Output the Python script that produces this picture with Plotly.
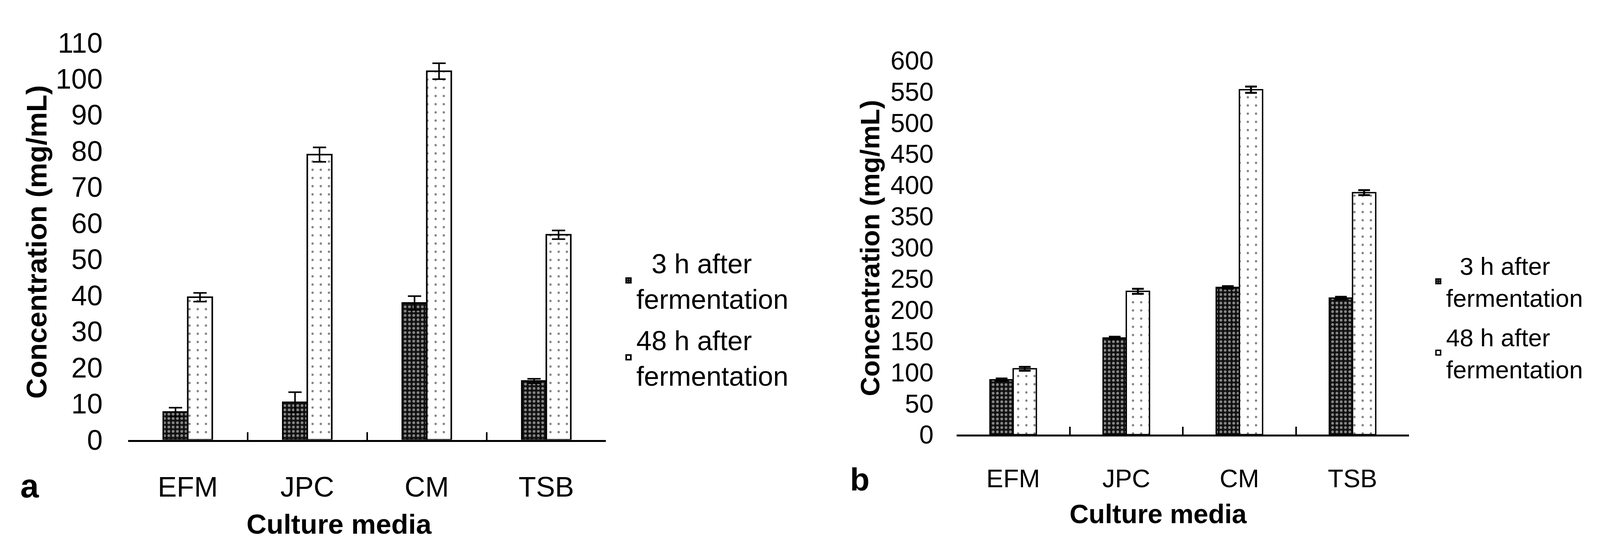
import plotly.graph_objects as go

# reference picture size, and the part of the page that the screenshot shows
REF_W, H = 4306, 1419
W = 4085
FONT = "Liberation Sans, Arial, sans-serif"

media = ["EFM", "JPC", "CM", "TSB"]

# panel a
a_3h = [7.7, 10.4, 37.9, 16.3]
a_3h_err = [1.2, 2.8, 1.9, 0.6]
a_48h = [39.5, 79.0, 102.1, 56.8]
a_48h_err = [1.2, 2.0, 2.2, 1.2]
a_ticks = list(range(0, 111, 10))

# panel b
b_3h = [88, 155, 236, 219]
b_3h_err = [2, 2, 2, 2]
b_48h = [105.6, 229.8, 553, 388]
b_48h_err = [3, 4, 5, 4]
b_ticks = list(range(0, 601, 50))

names = ["&nbsp;&nbsp;3 h after<br>fermentation", "48 h after<br>fermentation"]


def px(x):
    # reference pixel -> paper fraction
    return x / REF_W


def py(y):
    return (H - y) / H


pat_3h = dict(shape=".", bgcolor="#111111", fgcolor="white", size=11, solidity=0.32)
pat_48h = dict(shape=".", bgcolor="white", fgcolor="black", size=21, solidity=0.06)

fig = go.Figure()

for i, (vals, errs, name, pat) in enumerate([(a_3h, a_3h_err, names[0], pat_3h), (a_48h, a_48h_err, names[1], pat_48h)]):
    fig.add_trace(go.Bar(
        x=media, y=vals, name=name, xaxis="x", yaxis="y", legend="legend", legendgroup=f"a{i}",
        marker=dict(color="white", pattern=pat, line=dict(color="black", width=4)),
        error_y=dict(type="data", array=errs, color="black", thickness=4, width=17),
    ))

for i, (vals, errs, name, pat) in enumerate([(b_3h, b_3h_err, names[0], pat_3h), (b_48h, b_48h_err, names[1], pat_48h)]):
    fig.add_trace(go.Bar(
        x=media, y=vals, name=name, xaxis="x2", yaxis="y2", legend="legend2", legendgroup=f"b{i}",
        marker=dict(color="white", pattern=pat, line=dict(color="black", width=3.5)),
        error_y=dict(type="data", array=errs, color="black", thickness=5, width=15),
    ))

xcommon = dict(type="category", showline=True, linecolor="black", linewidth=5,
               ticks="inside", tickson="boundaries", ticklen=20, tickwidth=4, tickcolor="black",
               showgrid=False, zeroline=False, range=[-0.5, 3.5])
ycommon = dict(showline=False, ticks="", showgrid=False, zeroline=False, tickmode="array")

fig.update_layout(
    width=W, height=H,
    margin=dict(l=0, r=0, t=0, b=0),
    paper_bgcolor="white", plot_bgcolor="white",
    font=dict(family=FONT, color="black"),
    barmode="group", bargap=0.59, bargroupgap=0,
    xaxis=dict(xcommon, domain=[px(337), px(1627)], anchor="y",
               tickfont=dict(size=73), ticklabelstandoff=53),
    yaxis=dict(ycommon, domain=[py(1143), py(65)], anchor="x", range=[0, 110],
               tickvals=a_ticks, tickfont=dict(size=72), ticklabelstandoff=64),
    xaxis2=dict(xcommon, domain=[px(2573), px(3794)], anchor="y2",
                tickfont=dict(size=65), ticklabelstandoff=52),
    yaxis2=dict(ycommon, domain=[py(1129), py(113)], anchor="x2", range=[0, 600],
                tickvals=b_ticks, tickfont=dict(size=66), ticklabelstandoff=58),
    legend=dict(x=1581 / W, y=py(607), xanchor="left", yanchor="top", traceorder="grouped",
                font=dict(size=70), bgcolor="rgba(0,0,0,0)", tracegroupgap=12),
    legend2=dict(x=3654 / W, y=py(619), xanchor="left", yanchor="top", traceorder="grouped",
                 font=dict(size=63), bgcolor="rgba(0,0,0,0)", tracegroupgap=16),
    showlegend=True,
)

annots = [
    dict(text="<b>Concentration (mg/mL)</b>", x=px(91), y=py(606), textangle=-90, size=73),
    dict(text="<b>Culture media</b>", x=px(906), y=py(1372), textangle=0, size=71),
    dict(text="<b>a</b>", x=px(72), y=py(1268), textangle=0, size=85),
    dict(text="<b>Concentration (mg/mL)</b>", x=px(2340), y=py(622), textangle=-90, size=69),
    dict(text="<b>Culture media</b>", x=px(3117), y=py(1344), textangle=0, size=68),
    dict(text="<b>b</b>", x=px(2312), y=py(1250), textangle=0, size=82),
]
for a in annots:
    fig.add_annotation(text=a["text"], x=a["x"], y=a["y"], xref="paper", yref="paper",
                       xanchor="center", yanchor="middle", showarrow=False,
                       textangle=a["textangle"], font=dict(size=a["size"], family=FONT, color="black"))

fig.write_html("out.html")
